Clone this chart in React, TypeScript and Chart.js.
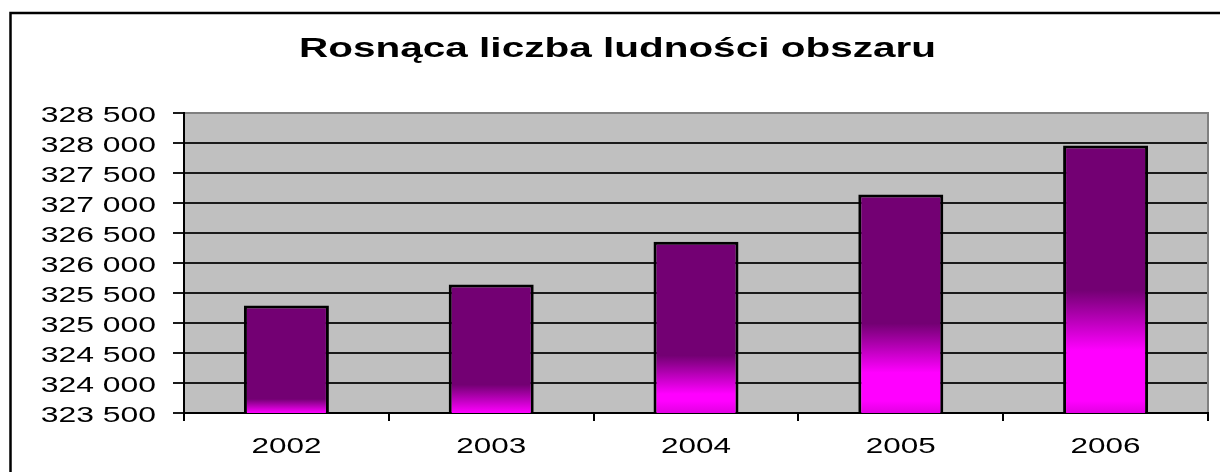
import React, { useEffect, useRef } from "react";
import { Chart, registerables } from "chart.js";

Chart.register(...registerables);

const TITLE = "Rosnąca liczba ludności obszaru";
const YEARS = ["2002", "2003", "2004", "2005", "2006"];
const POPULATION = [325290, 325640, 326355, 327140, 327960];
const Y_MIN = 323500;
const Y_MAX = 328500;
const Y_STEP = 500;

const DARK = "#730073";
const MAGENTA = "#FF00FF";
const MAGENTA_LOW = "#E200E2";
const FONT = '"Liberation Sans", Arial, sans-serif';
const STRETCH = 1.45;

const formatNumber = (v: number) =>
  String(Math.round(v)).replace(/\B(?=(\d{3})+(?!\d))/g, " ");

function barFill(ctx: any) {
  const chart = ctx.chart;
  const area = chart.chartArea;
  const y = chart.scales && chart.scales.y;
  if (!area || !y || ctx.type !== "data") return DARK;
  const top = y.getPixelForValue(ctx.raw);
  const bottom = area.bottom;
  const h = bottom - top;
  if (h <= 2) return DARK;
  const d = Math.min(h, Math.max(4, 0.68 * h - 59));
  const m = Math.max(0, 0.45 * h - 58);
  const g = chart.ctx.createLinearGradient(0, top, 0, bottom);
  g.addColorStop(0, DARK);
  g.addColorStop((h - d) / h, DARK);
  g.addColorStop(Math.min(1, (h - m) / h), MAGENTA);
  if (m > 14) {
    g.addColorStop((h - 12) / h, MAGENTA);
    g.addColorStop(1, MAGENTA_LOW);
  }
  return g;
}

function stretchedText(
  c: CanvasRenderingContext2D,
  text: string,
  x: number,
  y: number,
  align: CanvasTextAlign,
  sx: number
) {
  c.save();
  c.translate(x, y);
  c.scale(sx, 1);
  c.textAlign = align;
  c.textBaseline = "alphabetic";
  c.fillText(text, 0, 0);
  c.restore();
}

const decor = {
  id: "decor",
  beforeDraw(chart: any) {
    const c = chart.ctx as CanvasRenderingContext2D;
    const a = chart.chartArea;
    c.save();
    c.fillStyle = "#ffffff";
    c.fillRect(0, 0, chart.width, chart.height);
    c.fillStyle = "#C0C0C0";
    c.fillRect(a.left, a.top, a.right - a.left, a.bottom - a.top);
    c.strokeStyle = "#000000";
    c.lineWidth = 2.5;
    c.strokeRect(10.5, 13, chart.width + 40, chart.height + 40);
    c.restore();
  },
  beforeDatasetsDraw(chart: any) {
    const c = chart.ctx as CanvasRenderingContext2D;
    const a = chart.chartArea;
    c.save();
    c.strokeStyle = "#808080";
    c.lineWidth = 2;
    c.beginPath();
    c.moveTo(a.left + 1, a.top);
    c.lineTo(a.right, a.top);
    c.lineTo(a.right, a.bottom - 1);
    c.stroke();
    c.restore();
  },
  afterDraw(chart: any) {
    const c = chart.ctx as CanvasRenderingContext2D;
    const a = chart.chartArea;
    c.save();
    c.fillStyle = "#000000";
    c.font = `bold 27px ${FONT}`;
    stretchedText(c, TITLE, 617.5, 57, "center", 1.5);

    c.font = `22px ${FONT}`;
    const ys = chart.scales.y;
    ys.ticks.forEach((t: any) => {
      const py = ys.getPixelForValue(t.value);
      stretchedText(c, formatNumber(t.value), a.left - 28, py + 8.5, "right", STRETCH);
    });
    const xs = chart.scales.x;
    YEARS.forEach((label, i) => {
      const px = xs.getPixelForValue(i);
      stretchedText(c, label, px, 453, "center", 1.43);
    });
    c.restore();
  },
};

export default function App() {
  const ref = useRef<HTMLCanvasElement | null>(null);

  useEffect(() => {
    if (!ref.current) return;
    const chart = new Chart(ref.current, {
      type: "bar",
      data: {
        labels: YEARS,
        datasets: [
          {
            data: POPULATION,
            backgroundColor: barFill as any,
            borderColor: "#000000",
            borderWidth: 3,
            categoryPercentage: 1,
            barPercentage: 0.415,
          },
        ],
      },
      options: {
        animation: false,
        responsive: false,
        devicePixelRatio: 1,
        layout: { padding: { left: 173, top: 113, right: 12, bottom: 51 } },
        plugins: {
          legend: { display: false },
          title: { display: false },
          tooltip: { enabled: false },
        },
        scales: {
          x: {
            ticks: { display: false },
            grid: {
              display: true,
              drawOnChartArea: false,
              drawTicks: true,
              tickLength: 8,
              color: "#000000",
              lineWidth: 2,
            },
            border: { display: true, color: "#000000", width: 2 },
          },
          y: {
            min: Y_MIN,
            max: Y_MAX,
            ticks: { display: false, stepSize: Y_STEP },
            grid: {
              display: true,
              drawOnChartArea: true,
              drawTicks: true,
              tickLength: 11,
              color: "#1a1a1a",
              lineWidth: 2,
            },
            border: { display: true, color: "#000000", width: 2 },
          },
        },
      },
      plugins: [decor],
    });
    return () => chart.destroy();
  }, []);

  return (
    <div style={{ position: "absolute", left: 0, top: 0, width: 1220, height: 472 }}>
      <canvas ref={ref} width={1220} height={472} />
    </div>
  );
}
